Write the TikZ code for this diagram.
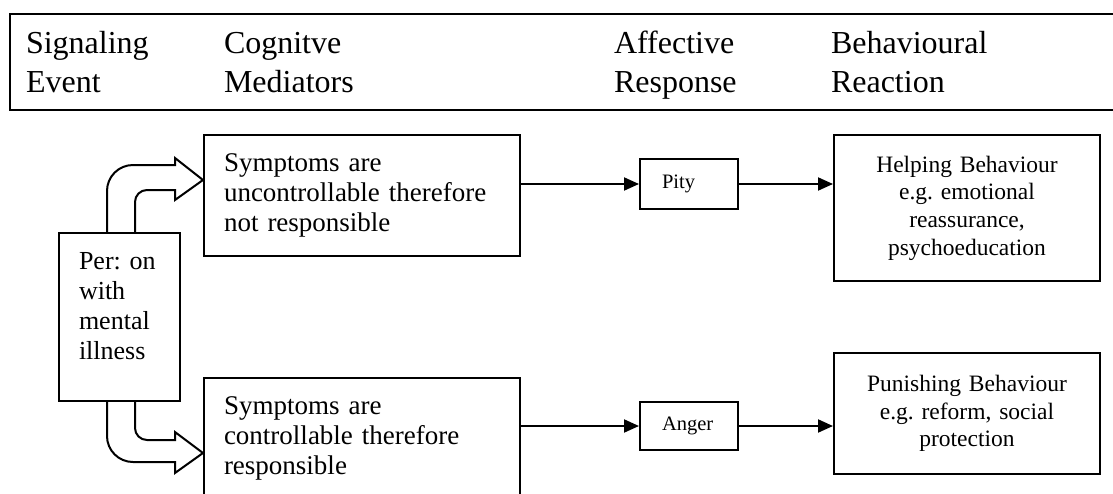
\documentclass[tikz,border=0pt]{standalone}
\usepackage{fontspec}
\setmainfont{Liberation Serif}
\usetikzlibrary{arrows.meta}
\frenchspacing

\begin{document}
\begin{tikzpicture}[x=0.5pt,y=-0.5pt,line width=1pt,
    box/.style={draw,anchor=north west,inner xsep=10pt,inner ysep=0pt,align=left},
    head/.style={anchor=base west,inner sep=0pt,text width=90pt,align=left,
      font=\fontsize{16}{19.5}\selectfont},
    mid/.style={font=\fontsize{13.5}{14.8}\selectfont},
    fat/.style={line join=miter},
    flow/.style={-{Triangle[length=7.5pt,width=6.5pt]}}]
  \clip (0,0) rectangle (1113,493);
  % header strip, open on the right
  \draw (1113,14) -- (10,14) -- (10,110) -- (1113,110);
  \node[head] (hsig) at (25,53) {Signaling\\Event};
  \node[head] (hcog) at (223,53) {Cognitve\\Mediators};
  \node[head] (haff) at (613,53) {Affective\\Response};
  \node[head] (hbeh) at (830,53) {Behavioural\\Reaction};
  % boxes
  \node[box,minimum width=60.5pt,minimum height=84pt,text width=40.5pt,
    font=\fontsize{13}{15}\selectfont] (person) at (58,232)
    {Per: on\\with\\mental\\illness\rule[-11pt]{0pt}{11pt}};
  \node[box,mid,minimum width=158pt,minimum height=60.5pt,text width=138pt] (cogA)
    at (203,134) {Symptoms are\\uncontrollable therefore\\not responsible};
  \node[box,mid,minimum width=158pt,minimum height=60.5pt,text width=138pt] (cogB)
    at (203,377) {Symptoms are\\controllable therefore\\responsible};
  \node[box,inner xsep=11pt,minimum width=49pt,minimum height=25pt,text width=27pt,
    font=\fontsize{10.25}{12}\selectfont] (pity) at (639,158) {Pity};
  \node[box,inner xsep=11pt,minimum width=49pt,minimum height=24pt,text width=27pt,
    font=\fontsize{10.25}{12}\selectfont] (anger) at (639,401) {Anger};
  \node[box,align=center,minimum width=133pt,minimum height=73pt,text width=113pt,
    font=\fontsize{11.75}{13.85}\selectfont] (help) at (833,134)
    {Helping Behaviour\\e.g. emotional\\reassurance,\\psychoeducation};
  \node[box,align=center,minimum width=133pt,minimum height=60.5pt,text width=113pt,
    font=\fontsize{11.75}{13.85}\selectfont] (punish) at (833,352)
    {Punishing Behaviour\\e.g. reform, social\\protection};
  % fat bent arrows
  \draw[fat] ([xshift=24.5pt]person.north west) -- (107,191)
    arc[start angle=180,end angle=90,radius=13pt] -- (175,165) -- (175,158)
    -- ([yshift=7.75pt]cogA.west) -- (175,200) -- (175,190) -- (147,190)
    arc[start angle=90,end angle=180,radius=6pt] -- ([xshift=38.5pt]person.north west);
  \draw[fat] ([xshift=24.5pt]person.south west) -- (107,436)
    arc[start angle=180,end angle=270,radius=13pt] -- (175,462) -- (175,473)
    -- ([yshift=-7.25pt]cogB.west) -- (175,432) -- (175,440) -- (147,440)
    arc[start angle=270,end angle=180,radius=6pt] -- ([xshift=38.5pt]person.south west);
  % plain arrows
  \draw[flow] (pity -| cogA.east) -- (pity.west);
  \draw[flow] (pity.east) -- (pity -| help.west);
  \draw[flow] (anger -| cogB.east) -- (anger.west);
  \draw[flow] (anger.east) -- (anger -| punish.west);
\end{tikzpicture}
\end{document}
